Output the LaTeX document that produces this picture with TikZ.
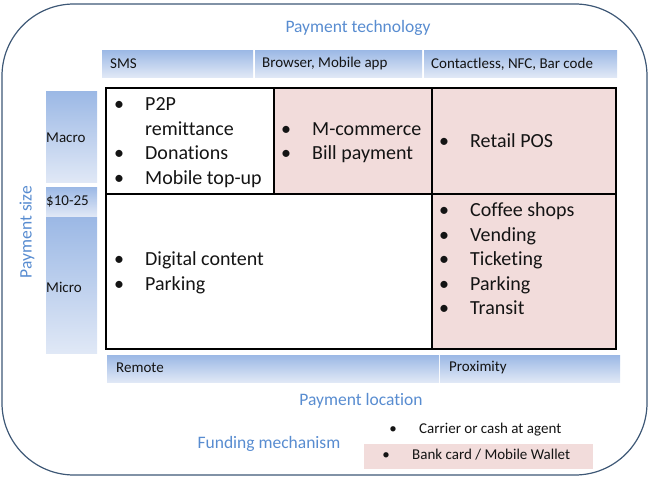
\documentclass[tikz,border=0pt]{standalone}
\usepackage{fontspec}
\setmainfont{Carlito}[Ligatures={NoCommon}]
\definecolor{ttl}{RGB}{88,140,208}
\definecolor{bartop}{RGB}{155,184,229}
\definecolor{barbot}{RGB}{224,232,246}
\definecolor{pinkc}{RGB}{242,220,219}
\definecolor{framec}{RGB}{62,88,118}
\definecolor{txt}{RGB}{20,20,20}
\newcommand\bul{\makebox[0pt]{•}}
\tikzset{
  bartext/.style={anchor=west, inner sep=0pt, text=txt, font=\fontsize{15}{18}\selectfont},
  celltext/.style={anchor=west, inner sep=0pt, text=txt, font=\fontsize{20}{24.5}\selectfont},
  titletext/.style={inner sep=0pt, text=ttl, font=\fontsize{17.5}{21}\selectfont},
  gridline/.style={draw=black, line width=1.5pt},
}
\begin{document}
\begin{tikzpicture}[x=1pt,y=-1pt]
\useasboundingbox (0,0) rectangle (649,479);
% outer frame
\draw[framec, line width=1.2pt, rounded corners=72pt] (2,4) rectangle (647,475);
% title
\node[titletext] (ttech) at (358,28) {Payment technology};
% header bars
\shade[top color=bartop, bottom color=barbot] (102,50) rectangle (253,77);
\shade[top color=bartop, bottom color=barbot] (255,50) rectangle (422,77);
\shade[top color=bartop, bottom color=barbot] (424,50) rectangle (617,77);
\node[bartext] (sms) at (110,64) {SMS};
\node[bartext] (brw) at (262,64) {Browser, Mobile app};
\node[bartext] (nfc) at (431,64) {Contactless, NFC, Bar code};
% left bars
\shade[top color=bartop, bottom color=barbot] (46,91) rectangle (97,182);
\shade[top color=bartop, bottom color=barbot] (46,187) rectangle (97,216);
\shade[top color=bartop, bottom color=barbot] (46,217) rectangle (97,353);
\node[bartext] (macro) at (46,138) {Macro};
\node[bartext] (mid) at (46,201) {\$10-25};
\node[bartext] (micro) at (46,287) {Micro};
\node[titletext, rotate=90] (psize) at (27,232) {Payment size};
% grid cells
\fill[pinkc] (274,88) rectangle (432,194);
\fill[pinkc] (432,88) rectangle (616,349);
\draw[gridline] (106,88) rectangle (616,349);
\draw[gridline] (106,194) -- (616,194);
\draw[gridline] (274,88) -- (274,194);
\draw[gridline] (432,88) -- (432,349);
% cell texts
\node[celltext] (c1) at (119,142.5) {\begin{tabular}{@{}l@{\hspace{26pt}}l@{}}\bul & P2P\\ & remittance\\ \bul & Donations\\ \bul & Mobile top-up\end{tabular}};
\node[celltext] (c2) at (286,142.5) {\begin{tabular}{@{}l@{\hspace{26pt}}l@{}}\bul & M-commerce\\ \bul & Bill payment\end{tabular}};
\node[celltext] (c3) at (444,143) {\begin{tabular}{@{}l@{\hspace{26pt}}l@{}}\bul & Retail POS\end{tabular}};
\node[celltext] (c4) at (119,273) {\begin{tabular}{@{}l@{\hspace{26pt}}l@{}}\bul & Digital content\\ \bul & Parking\end{tabular}};
\node[celltext] (c5) at (444,261) {\begin{tabular}{@{}l@{\hspace{26pt}}l@{}}\bul & Coffee shops\\ \bul & Vending\\ \bul & Ticketing\\ \bul & Parking\\ \bul & Transit\end{tabular}};
% bottom bars
\shade[top color=bartop, bottom color=barbot] (107,355) rectangle (439,382);
\shade[top color=bartop, bottom color=barbot] (440,355) rectangle (620,382);
\node[bartext] (remote) at (116,368) {Remote};
\node[bartext] (prox) at (449,368) {Proximity};
\node[titletext] (ploc) at (361,401) {Payment location};
% funding
\node[titletext] (fund) at (269,444) {Funding mechanism};
\fill[pinkc] (364,444) rectangle (593,469);
\node[bartext] (carrier) at (393,430) {\begin{tabular}{@{}l@{\hspace{26pt}}l@{}}\bul & Carrier or cash at agent\end{tabular}};
\node[bartext] (bank) at (386,456) {\begin{tabular}{@{}l@{\hspace{26pt}}l@{}}\bul & Bank card / Mobile Wallet\end{tabular}};
\end{tikzpicture}
\end{document}
